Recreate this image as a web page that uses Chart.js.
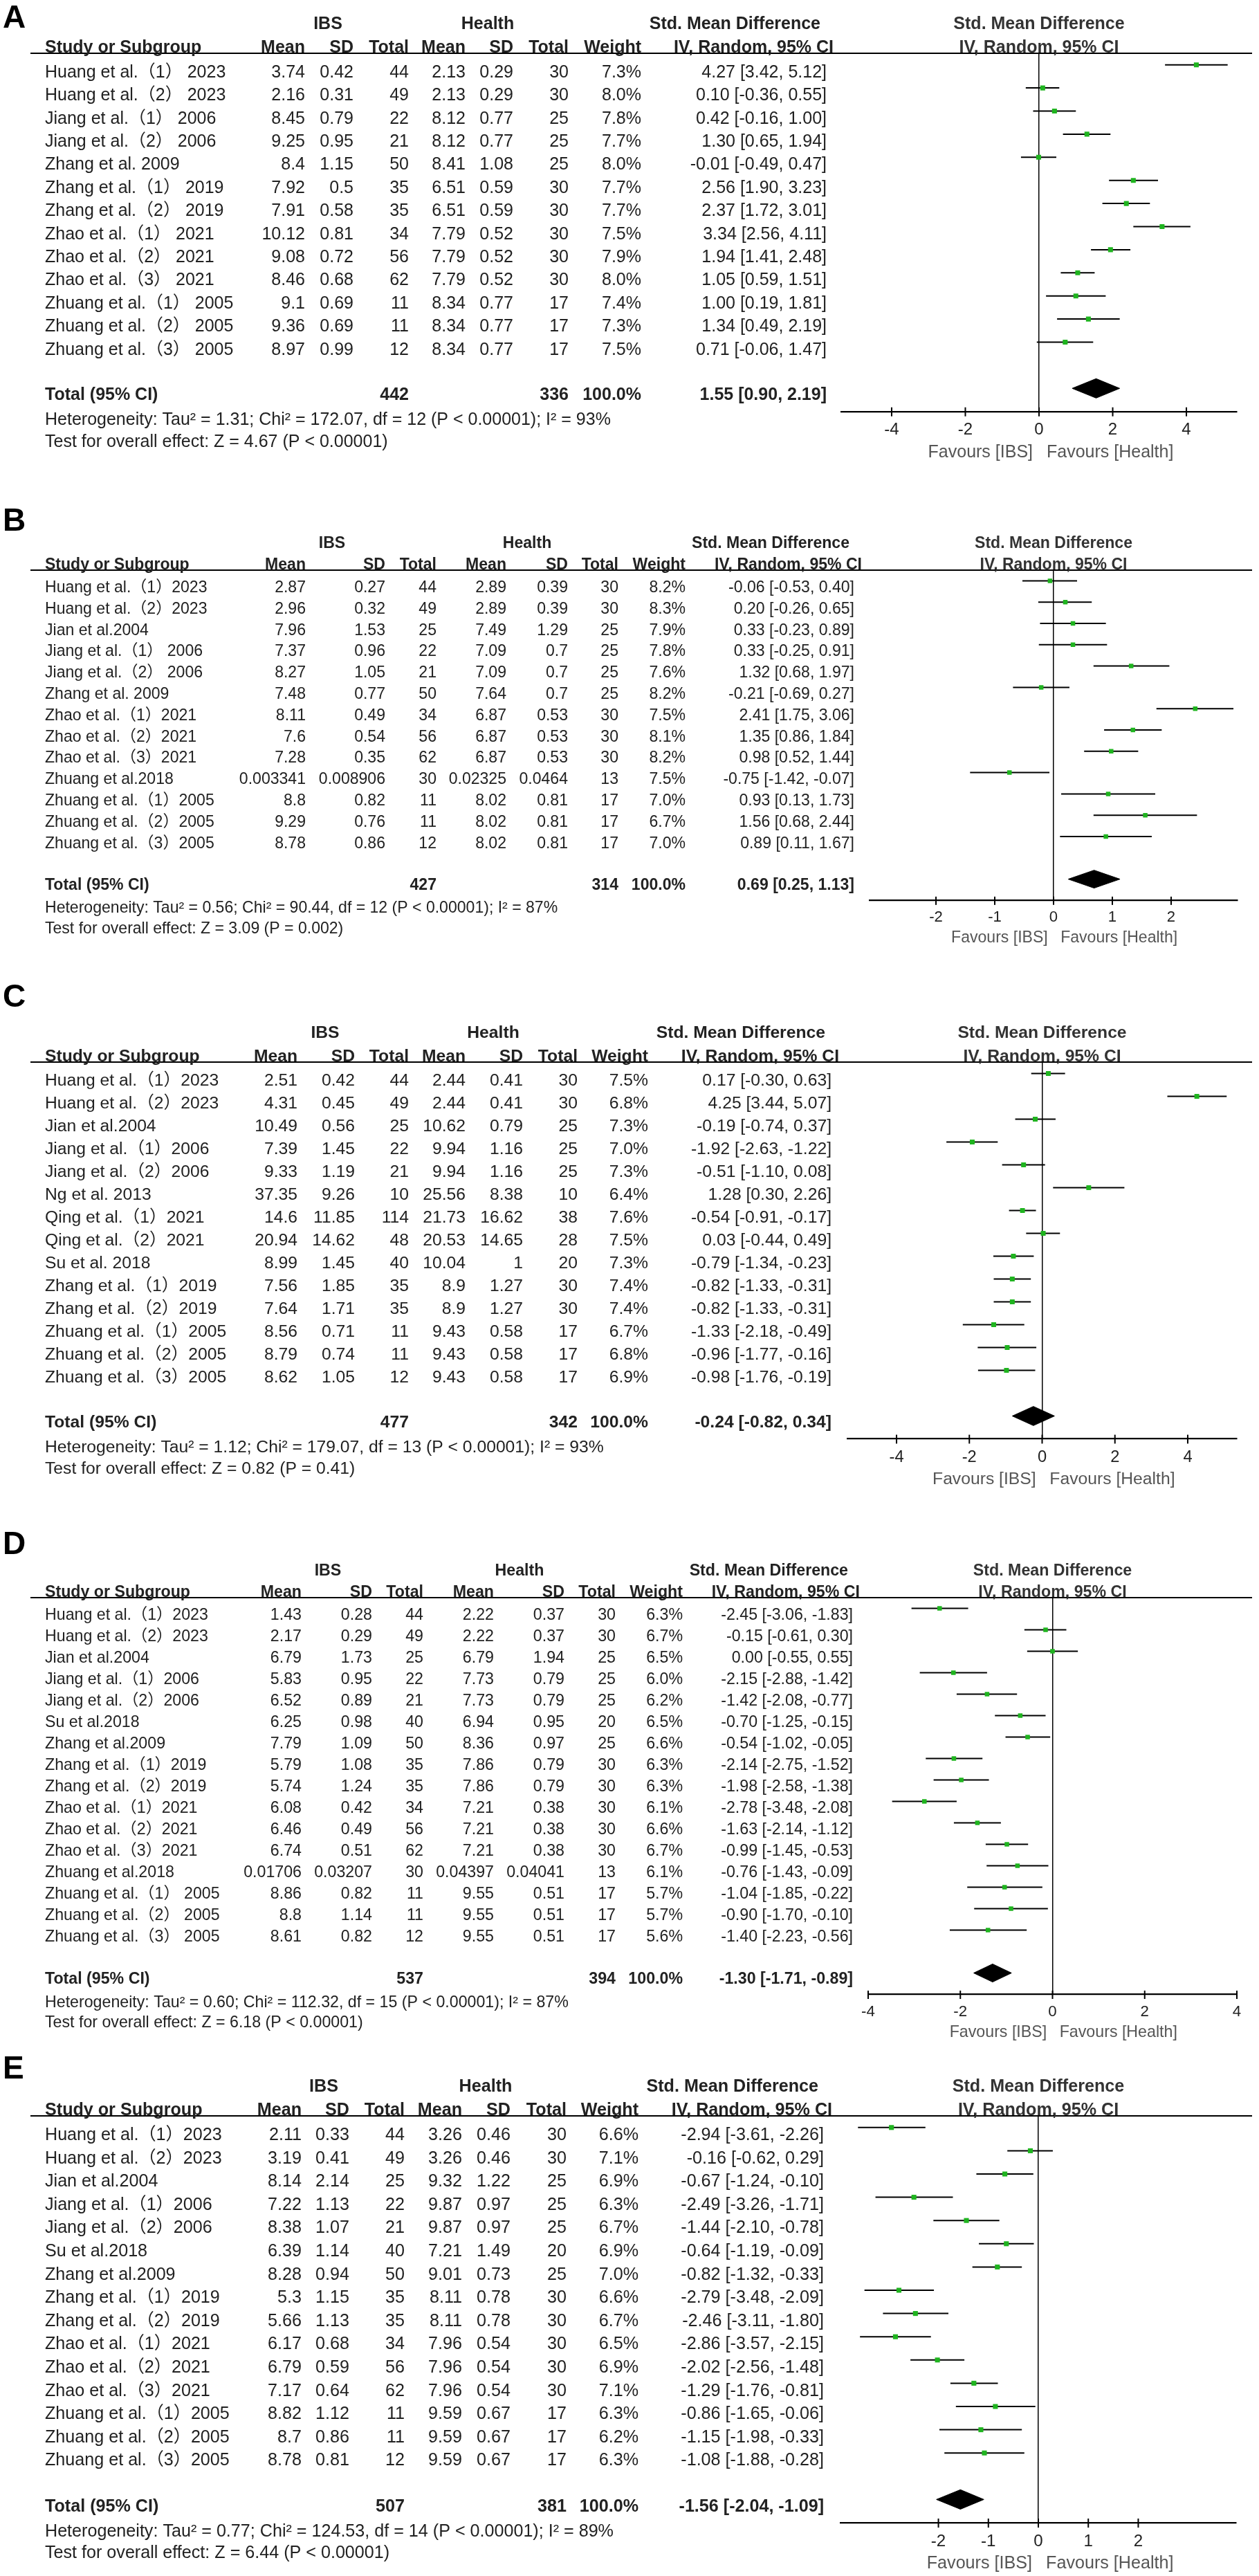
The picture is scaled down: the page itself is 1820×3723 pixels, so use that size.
<!DOCTYPE html>
<html lang="en">
<head>
<meta charset="utf-8">
<title>Forest plots A-E</title>
<script src="https://cdn.jsdelivr.net/npm/chart.js@4.4.1/dist/chart.umd.min.js"></script>
<style>
  html, body { margin: 0; padding: 0; background: #fff; }
  #wrap { position: relative; width: 1820px; height: 3723px; overflow: hidden; }
  #wrap canvas { position: absolute; left: 0; }
</style>
</head>
<body>
<div id="wrap"></div>
<script>
  // ---- panel A ----
  const studyA = ['Huang et al.（1） 2023', 'Huang et al.（2） 2023', 'Jiang et al.（1） 2006', 'Jiang et al.（2） 2006', 'Zhang et al. 2009', 'Zhang et al.（1） 2019', 'Zhang et al.（2） 2019', 'Zhao et al.（1） 2021', 'Zhao et al.（2） 2021', 'Zhao et al.（3） 2021', 'Zhuang et al.（1） 2005', 'Zhuang et al.（2） 2005', 'Zhuang et al.（3） 2005'];
  const ibsMeanA = ['3.74', '2.16', '8.45', '9.25', '8.4', '7.92', '7.91', '10.12', '9.08', '8.46', '9.1', '9.36', '8.97'];
  const ibsSdA = ['0.42', '0.31', '0.79', '0.95', '1.15', '0.5', '0.58', '0.81', '0.72', '0.68', '0.69', '0.69', '0.99'];
  const ibsNA = [44, 49, 22, 21, 50, 35, 35, 34, 56, 62, 11, 11, 12];
  const hMeanA = ['2.13', '2.13', '8.12', '8.12', '8.41', '6.51', '6.51', '7.79', '7.79', '7.79', '8.34', '8.34', '8.34'];
  const hSdA = ['0.29', '0.29', '0.77', '0.77', '1.08', '0.59', '0.59', '0.52', '0.52', '0.52', '0.77', '0.77', '0.77'];
  const hNA = [30, 30, 25, 25, 25, 30, 30, 30, 30, 30, 17, 17, 17];
  const weightA = [7.3, 8.0, 7.8, 7.7, 8.0, 7.7, 7.7, 7.5, 7.9, 8.0, 7.4, 7.3, 7.5];
  const smdA = [4.27, 0.10, 0.42, 1.30, -0.01, 2.56, 2.37, 3.34, 1.94, 1.05, 1.00, 1.34, 0.71];
  const loA = [3.42, -0.36, -0.16, 0.65, -0.49, 1.90, 1.72, 2.56, 1.41, 0.59, 0.19, 0.49, -0.06];
  const hiA = [5.12, 0.55, 1.00, 1.94, 0.47, 3.23, 3.01, 4.11, 2.48, 1.51, 1.81, 2.19, 1.47];

  // ---- panel B ----
  const studyB = ['Huang et al.（1）2023', 'Huang et al.（2）2023', 'Jian et al.2004', 'Jiang et al.（1） 2006', 'Jiang et al.（2） 2006', 'Zhang et al. 2009', 'Zhao et al.（1）2021', 'Zhao et al.（2）2021', 'Zhao et al.（3）2021', 'Zhuang et al.2018', 'Zhuang et al.（1）2005', 'Zhuang et al.（2）2005', 'Zhuang et al.（3）2005'];
  const ibsMeanB = ['2.87', '2.96', '7.96', '7.37', '8.27', '7.48', '8.11', '7.6', '7.28', '0.003341', '8.8', '9.29', '8.78'];
  const ibsSdB = ['0.27', '0.32', '1.53', '0.96', '1.05', '0.77', '0.49', '0.54', '0.35', '0.008906', '0.82', '0.76', '0.86'];
  const ibsNB = [44, 49, 25, 22, 21, 50, 34, 56, 62, 30, 11, 11, 12];
  const hMeanB = ['2.89', '2.89', '7.49', '7.09', '7.09', '7.64', '6.87', '6.87', '6.87', '0.02325', '8.02', '8.02', '8.02'];
  const hSdB = ['0.39', '0.39', '1.29', '0.7', '0.7', '0.7', '0.53', '0.53', '0.53', '0.0464', '0.81', '0.81', '0.81'];
  const hNB = [30, 30, 25, 25, 25, 25, 30, 30, 30, 13, 17, 17, 17];
  const weightB = [8.2, 8.3, 7.9, 7.8, 7.6, 8.2, 7.5, 8.1, 8.2, 7.5, 7.0, 6.7, 7.0];
  const smdB = [-0.06, 0.20, 0.33, 0.33, 1.32, -0.21, 2.41, 1.35, 0.98, -0.75, 0.93, 1.56, 0.89];
  const loB = [-0.53, -0.26, -0.23, -0.25, 0.68, -0.69, 1.75, 0.86, 0.52, -1.42, 0.13, 0.68, 0.11];
  const hiB = [0.40, 0.65, 0.89, 0.91, 1.97, 0.27, 3.06, 1.84, 1.44, -0.07, 1.73, 2.44, 1.67];

  // ---- panel C ----
  const studyC = ['Huang et al.（1）2023', 'Huang et al.（2）2023', 'Jian et al.2004', 'Jiang et al.（1）2006', 'Jiang et al.（2）2006', 'Ng et al. 2013', 'Qing et al.（1）2021', 'Qing et al.（2）2021', 'Su et al. 2018', 'Zhang et al.（1）2019', 'Zhang et al.（2）2019', 'Zhuang et al.（1）2005', 'Zhuang et al.（2）2005', 'Zhuang et al.（3）2005'];
  const ibsMeanC = ['2.51', '4.31', '10.49', '7.39', '9.33', '37.35', '14.6', '20.94', '8.99', '7.56', '7.64', '8.56', '8.79', '8.62'];
  const ibsSdC = ['0.42', '0.45', '0.56', '1.45', '1.19', '9.26', '11.85', '14.62', '1.45', '1.85', '1.71', '0.71', '0.74', '1.05'];
  const ibsNC = [44, 49, 25, 22, 21, 10, 114, 48, 40, 35, 35, 11, 11, 12];
  const hMeanC = ['2.44', '2.44', '10.62', '9.94', '9.94', '25.56', '21.73', '20.53', '10.04', '8.9', '8.9', '9.43', '9.43', '9.43'];
  const hSdC = ['0.41', '0.41', '0.79', '1.16', '1.16', '8.38', '16.62', '14.65', '1', '1.27', '1.27', '0.58', '0.58', '0.58'];
  const hNC = [30, 30, 25, 25, 25, 10, 38, 28, 20, 30, 30, 17, 17, 17];
  const weightC = [7.5, 6.8, 7.3, 7.0, 7.3, 6.4, 7.6, 7.5, 7.3, 7.4, 7.4, 6.7, 6.8, 6.9];
  const smdC = [0.17, 4.25, -0.19, -1.92, -0.51, 1.28, -0.54, 0.03, -0.79, -0.82, -0.82, -1.33, -0.96, -0.98];
  const loC = [-0.30, 3.44, -0.74, -2.63, -1.10, 0.30, -0.91, -0.44, -1.34, -1.33, -1.33, -2.18, -1.77, -1.76];
  const hiC = [0.63, 5.07, 0.37, -1.22, 0.08, 2.26, -0.17, 0.49, -0.23, -0.31, -0.31, -0.49, -0.16, -0.19];

  // ---- panel D ----
  const studyD = ['Huang et al.（1）2023', 'Huang et al.（2）2023', 'Jian et al.2004', 'Jiang et al.（1）2006', 'Jiang et al.（2）2006', 'Su et al.2018', 'Zhang et al.2009', 'Zhang et al.（1）2019', 'Zhang et al.（2）2019', 'Zhao et al.（1）2021', 'Zhao et al.（2）2021', 'Zhao et al.（3）2021', 'Zhuang et al.2018', 'Zhuang et al.（1） 2005', 'Zhuang et al.（2） 2005', 'Zhuang et al.（3） 2005'];
  const ibsMeanD = ['1.43', '2.17', '6.79', '5.83', '6.52', '6.25', '7.79', '5.79', '5.74', '6.08', '6.46', '6.74', '0.01706', '8.86', '8.8', '8.61'];
  const ibsSdD = ['0.28', '0.29', '1.73', '0.95', '0.89', '0.98', '1.09', '1.08', '1.24', '0.42', '0.49', '0.51', '0.03207', '0.82', '1.14', '0.82'];
  const ibsND = [44, 49, 25, 22, 21, 40, 50, 35, 35, 34, 56, 62, 30, 11, 11, 12];
  const hMeanD = ['2.22', '2.22', '6.79', '7.73', '7.73', '6.94', '8.36', '7.86', '7.86', '7.21', '7.21', '7.21', '0.04397', '9.55', '9.55', '9.55'];
  const hSdD = ['0.37', '0.37', '1.94', '0.79', '0.79', '0.95', '0.97', '0.79', '0.79', '0.38', '0.38', '0.38', '0.04041', '0.51', '0.51', '0.51'];
  const hND = [30, 30, 25, 25, 25, 20, 25, 30, 30, 30, 30, 30, 13, 17, 17, 17];
  const weightD = [6.3, 6.7, 6.5, 6.0, 6.2, 6.5, 6.6, 6.3, 6.3, 6.1, 6.6, 6.7, 6.1, 5.7, 5.7, 5.6];
  const smdD = [-2.45, -0.15, 0.00, -2.15, -1.42, -0.70, -0.54, -2.14, -1.98, -2.78, -1.63, -0.99, -0.76, -1.04, -0.90, -1.40];
  const loD = [-3.06, -0.61, -0.55, -2.88, -2.08, -1.25, -1.02, -2.75, -2.58, -3.48, -2.14, -1.45, -1.43, -1.85, -1.70, -2.23];
  const hiD = [-1.83, 0.30, 0.55, -1.42, -0.77, -0.15, -0.05, -1.52, -1.38, -2.08, -1.12, -0.53, -0.09, -0.22, -0.10, -0.56];

  // ---- panel E ----
  const studyE = ['Huang et al.（1）2023', 'Huang et al.（2）2023', 'Jian et al.2004', 'Jiang et al.（1）2006', 'Jiang et al.（2）2006', 'Su et al.2018', 'Zhang et al.2009', 'Zhang et al.（1）2019', 'Zhang et al.（2）2019', 'Zhao et al.（1）2021', 'Zhao et al.（2）2021', 'Zhao et al.（3）2021', 'Zhuang et al.（1）2005', 'Zhuang et al.（2）2005', 'Zhuang et al.（3）2005'];
  const ibsMeanE = ['2.11', '3.19', '8.14', '7.22', '8.38', '6.39', '8.28', '5.3', '5.66', '6.17', '6.79', '7.17', '8.82', '8.7', '8.78'];
  const ibsSdE = ['0.33', '0.41', '2.14', '1.13', '1.07', '1.14', '0.94', '1.15', '1.13', '0.68', '0.59', '0.64', '1.12', '0.86', '0.81'];
  const ibsNE = [44, 49, 25, 22, 21, 40, 50, 35, 35, 34, 56, 62, 11, 11, 12];
  const hMeanE = ['3.26', '3.26', '9.32', '9.87', '9.87', '7.21', '9.01', '8.11', '8.11', '7.96', '7.96', '7.96', '9.59', '9.59', '9.59'];
  const hSdE = ['0.46', '0.46', '1.22', '0.97', '0.97', '1.49', '0.73', '0.78', '0.78', '0.54', '0.54', '0.54', '0.67', '0.67', '0.67'];
  const hNE = [30, 30, 25, 25, 25, 20, 25, 30, 30, 30, 30, 30, 17, 17, 17];
  const weightE = [6.6, 7.1, 6.9, 6.3, 6.7, 6.9, 7.0, 6.6, 6.7, 6.5, 6.9, 7.1, 6.3, 6.2, 6.3];
  const smdE = [-2.94, -0.16, -0.67, -2.49, -1.44, -0.64, -0.82, -2.79, -2.46, -2.86, -2.02, -1.29, -0.86, -1.15, -1.08];
  const loE = [-3.61, -0.62, -1.24, -3.26, -2.10, -1.19, -1.32, -3.48, -3.11, -3.57, -2.56, -1.76, -1.65, -1.98, -1.88];
  const hiE = [-2.26, 0.29, -0.10, -1.71, -0.78, -0.09, -0.33, -2.09, -1.80, -2.15, -1.48, -0.81, -0.06, -0.33, -0.28];

  // ---- pooled results (A..E) ----
  const panelNames = ['A', 'B', 'C', 'D', 'E'];
  const totalIbsN = [442, 427, 477, 537, 507];
  const totalHN = [336, 314, 342, 394, 381];
  const totalSmd = [1.55, 0.69, -0.24, -1.30, -1.56];
  const totalLo = [0.90, 0.25, -0.82, -1.71, -2.04];
  const totalHi = [2.19, 1.13, 0.34, -0.89, -1.09];
  const hetText = [
    'Heterogeneity: Tau² = 1.31; Chi² = 172.07, df = 12 (P < 0.00001); I² = 93%',
    'Heterogeneity: Tau² = 0.56; Chi² = 90.44, df = 12 (P < 0.00001); I² = 87%',
    'Heterogeneity: Tau² = 1.12; Chi² = 179.07, df = 13 (P < 0.00001); I² = 93%',
    'Heterogeneity: Tau² = 0.60; Chi² = 112.32, df = 15 (P < 0.00001); I² = 87%',
    'Heterogeneity: Tau² = 0.77; Chi² = 124.53, df = 14 (P < 0.00001); I² = 89%'
  ];
  const testText = [
    'Test for overall effect: Z = 4.67 (P < 0.00001)',
    'Test for overall effect: Z = 3.09 (P = 0.002)',
    'Test for overall effect: Z = 0.82 (P = 0.41)',
    'Test for overall effect: Z = 6.18 (P < 0.00001)',
    'Test for overall effect: Z = 6.44 (P < 0.00001)'
  ];
  const axisTicks = [[-4, -2, 0, 2, 4], [-2, -1, 0, 1, 2], [-4, -2, 0, 2, 4], [-4, -2, 0, 2, 4], [-2, -1, 0, 1, 2]];

  const panels = [
    { study: studyA, ibsMean: ibsMeanA, ibsSd: ibsSdA, ibsN: ibsNA, hMean: hMeanA, hSd: hSdA, hN: hNA, weight: weightA, smd: smdA, lo: loA, hi: hiA },
    { study: studyB, ibsMean: ibsMeanB, ibsSd: ibsSdB, ibsN: ibsNB, hMean: hMeanB, hSd: hSdB, hN: hNB, weight: weightB, smd: smdB, lo: loB, hi: hiB },
    { study: studyC, ibsMean: ibsMeanC, ibsSd: ibsSdC, ibsN: ibsNC, hMean: hMeanC, hSd: hSdC, hN: hNC, weight: weightC, smd: smdC, lo: loC, hi: hiC },
    { study: studyD, ibsMean: ibsMeanD, ibsSd: ibsSdD, ibsN: ibsND, hMean: hMeanD, hSd: hSdD, hN: hND, weight: weightD, smd: smdD, lo: loD, hi: hiD },
    { study: studyE, ibsMean: ibsMeanE, ibsSd: ibsSdE, ibsN: ibsNE, hMean: hMeanE, hSd: hSdE, hN: hNE, weight: weightE, smd: smdE, lo: loE, hi: hiE }
  ];

  // layout per panel (page pixels): canvas top/height, header line y, row pitch, plot left/right, axis half-range, table columns
  const geom = [
    { top: 0, h: 730, labelY: 23, hdr: 77, pitch: 33.4, L: 1216, R: 1788, range: 5.37, cols: [441, 511, 591, 673, 742, 822, 927, 1195], ibsX: 474, hX: 705, smdR: 1186, ivR: 1205 },
    { top: 730, h: 688, labelY: 750, hdr: 824, pitch: 30.8, L: 1257, R: 1789, range: 3.13, cols: [442, 557, 631, 732, 821, 894, 991, 1235], ibsX: 480, hX: 762, smdR: 1228, ivR: 1246 },
    { top: 1418, h: 787, labelY: 1438, hdr: 1535, pitch: 33.0, L: 1225, R: 1788, range: 5.35, cols: [430, 513, 591, 673, 756, 835, 937, 1202], ibsX: 470, hX: 713, smdR: 1193, ivR: 1213 },
    { top: 2205, h: 757, labelY: 2229, hdr: 2309, pitch: 31.0, L: 1255, R: 1788, range: 4.0, cols: [436, 538, 612, 714, 816, 890, 987, 1233], ibsX: 474, hX: 751, smdR: 1226, ivR: 1243 },
    { top: 2962, h: 761, labelY: 2987, hdr: 3058, pitch: 33.6, L: 1215, R: 1787, range: 3.96, cols: [436, 505, 585, 668, 738, 819, 923, 1191], ibsX: 468, hX: 702, smdR: 1183, ivR: 1203 }
  ];

  const FONT = '"Liberation Sans", Arial, "Noto Sans CJK SC", sans-serif';
  const TXT = '#222';
  const GREEN = '#1fb41f';
  Chart.defaults.font.family = FONT;

  const ci = (m, l, h) => m.toFixed(2) + ' [' + l.toFixed(2) + ', ' + h.toFixed(2) + ']';

  function tablePlugin(i) {
    return {
      id: 'forestTable' + i,
      afterDraw(chart) {
        const ctx = chart.ctx, g = geom[i], P = panels[i], n = P.study.length;
        const k = g.pitch / 33.4, fs = 25 * k;
        const ys = chart.scales.y, xs = chart.scales.x, area = chart.chartArea;
        const text = (s, x, yc, align, weight, size, color) => {
          ctx.font = weight + ' ' + size + 'px ' + FONT;
          ctx.fillStyle = color;
          ctx.textAlign = align;
          ctx.textBaseline = 'alphabetic';
          ctx.fillText(s, x, yc + 0.36 * size);
        };
        ctx.save();
        // panel letter
        text(panelNames[i], 4, g.labelY - g.top, 'left', 'bold', 46, '#000');

        // header line across the whole table
        ctx.strokeStyle = '#000';
        ctx.lineWidth = 2;
        ctx.beginPath();
        ctx.moveTo(44, area.top);
        ctx.lineTo(1810, area.top);
        ctx.stroke();

        // headers
        const h1 = area.top - 44 * k, h2 = area.top - 10 * k, c = g.cols;
        text('IBS', g.ibsX, h1, 'center', 'bold', fs, TXT);
        text('Health', g.hX, h1, 'center', 'bold', fs, TXT);
        text('Std. Mean Difference', g.smdR, h1, 'right', 'bold', fs, TXT);
        text('Study or Subgroup', 65, h2, 'left', 'bold', fs, TXT);
        ['Mean', 'SD', 'Total', 'Mean', 'SD', 'Total', 'Weight'].forEach((s, j) => text(s, c[j], h2, 'right', 'bold', fs, TXT));
        text('IV, Random, 95% CI', g.ivR, h2, 'right', 'bold', fs, TXT);
        const x0 = xs.getPixelForValue(0);
        text('Std. Mean Difference', x0, h1, 'center', 'bold', fs, '#333');
        text('IV, Random, 95% CI', x0, h2, 'center', 'bold', fs, '#333');

        // study rows
        for (let j = 0; j < n; j++) {
          const yc = ys.getPixelForValue(j + 1) + 9 * k;
          text(P.study[j], 65, yc, 'left', 'normal', fs, TXT);
          const cells = [P.ibsMean[j], P.ibsSd[j], String(P.ibsN[j]), P.hMean[j], P.hSd[j], String(P.hN[j]), P.weight[j].toFixed(1) + '%', ci(P.smd[j], P.lo[j], P.hi[j])];
          cells.forEach((s, m) => text(s, c[m], yc, 'right', 'normal', fs, TXT));
        }

        // pooled row and notes
        const tp = ys.getPixelForValue(n + 2);
        const ty = tp + 8 * k;
        text('Total (95% CI)', 65, ty, 'left', 'bold', fs, TXT);
        text(String(totalIbsN[i]), c[2], ty, 'right', 'bold', fs, TXT);
        text(String(totalHN[i]), c[5], ty, 'right', 'bold', fs, TXT);
        text('100.0%', c[6], ty, 'right', 'bold', fs, TXT);
        text(ci(totalSmd[i], totalLo[i], totalHi[i]), c[7], ty, 'right', 'bold', fs, TXT);
        text(hetText[i], 65, tp + 44 * k, 'left', 'normal', fs, TXT);
        text(testText[i], 65, tp + 75.5 * k, 'left', 'normal', fs, TXT);

        // tick marks crossing the axis line
        ctx.strokeStyle = '#000';
        ctx.lineWidth = 2;
        xs.ticks.forEach(t => {
          const px = xs.getPixelForValue(t.value);
          ctx.beginPath();
          ctx.moveTo(px, area.bottom - 6 * k);
          ctx.lineTo(px, area.bottom + 7 * k);
          ctx.stroke();
        });

        // favours labels
        const fy = area.bottom + 57 * k;
        text('Favours [IBS]', x0 - 9 * k, fy, 'right', 'normal', fs, '#555');
        text('Favours [Health]', x0 + 11 * k, fy, 'left', 'normal', fs, '#555');
        ctx.restore();
      }
    };
  }

  const wrap = document.getElementById('wrap');

  panels.forEach((P, i) => {
    const g = geom[i], n = P.study.length, k = g.pitch / 33.4;
    const canvas = document.createElement('canvas');
    canvas.width = 1820;
    canvas.height = g.h;
    canvas.style.top = g.top + 'px';
    canvas.style.width = '1820px';
    canvas.style.height = g.h + 'px';
    wrap.appendChild(canvas);

    const axisY = g.hdr + (n + 2.5) * g.pitch;
    const below = g.h - (axisY - g.top);   // room under the axis line for tick labels
    const tY = n + 2;

    const ciLines = [];
    P.lo.forEach((lo, j) => {
      ciLines.push({ x: lo, y: j + 1 }, { x: P.hi[j], y: j + 1 }, { x: P.hi[j], y: null });
    });
    const diamond = [
      { x: totalLo[i], y: tY },
      { x: totalSmd[i], y: tY - 0.42 },
      { x: totalHi[i], y: tY },
      { x: totalSmd[i], y: tY + 0.42 },
      { x: totalLo[i], y: tY }
    ];

    new Chart(canvas, {
      type: 'scatter',
      data: {
        datasets: [
          { label: 'SMD', data: P.smd.map((v, j) => ({ x: v, y: j + 1 })), pointStyle: 'rect', pointRadius: 5 * k, pointBorderWidth: 0, backgroundColor: GREEN, borderColor: GREEN },
          { label: '95% CI', data: ciLines, showLine: true, spanGaps: false, borderColor: '#000', borderWidth: 2, pointRadius: 0 },
          { label: 'Total', data: diamond, showLine: true, fill: 'shape', borderColor: '#000', backgroundColor: '#000', borderWidth: 1, pointRadius: 0 }
        ]
      },
      options: {
        responsive: false,
        animation: false,
        devicePixelRatio: 1,
        layout: { padding: { left: g.L, right: 1820 - g.R, top: g.hdr - g.top, bottom: 0 } },
        plugins: { legend: { display: false }, tooltip: { enabled: false } },
        scales: {
          x: {
            type: 'linear',
            min: -g.range,
            max: g.range,
            afterBuildTicks: s => { s.ticks = axisTicks[i].map(v => ({ value: v })); },
            afterFit: s => { s.height = below; },
            grid: {
              drawTicks: false,
              lineWidth: 1.5,
              color: c => (c.tick && c.tick.value === 0) ? '#000' : 'rgba(0,0,0,0)'
            },
            border: { display: true, color: '#000', width: 2.2 },
            ticks: { autoSkip: false, maxRotation: 0, padding: 12.5 * k, color: '#222', font: { family: FONT, size: 24 * k }, callback: v => String(v) }
          },
          y: { type: 'linear', display: false, reverse: true, min: 0.5, max: n + 3 }
        }
      },
      plugins: [tablePlugin(i)]
    });
  });
</script>
</body>
</html>
